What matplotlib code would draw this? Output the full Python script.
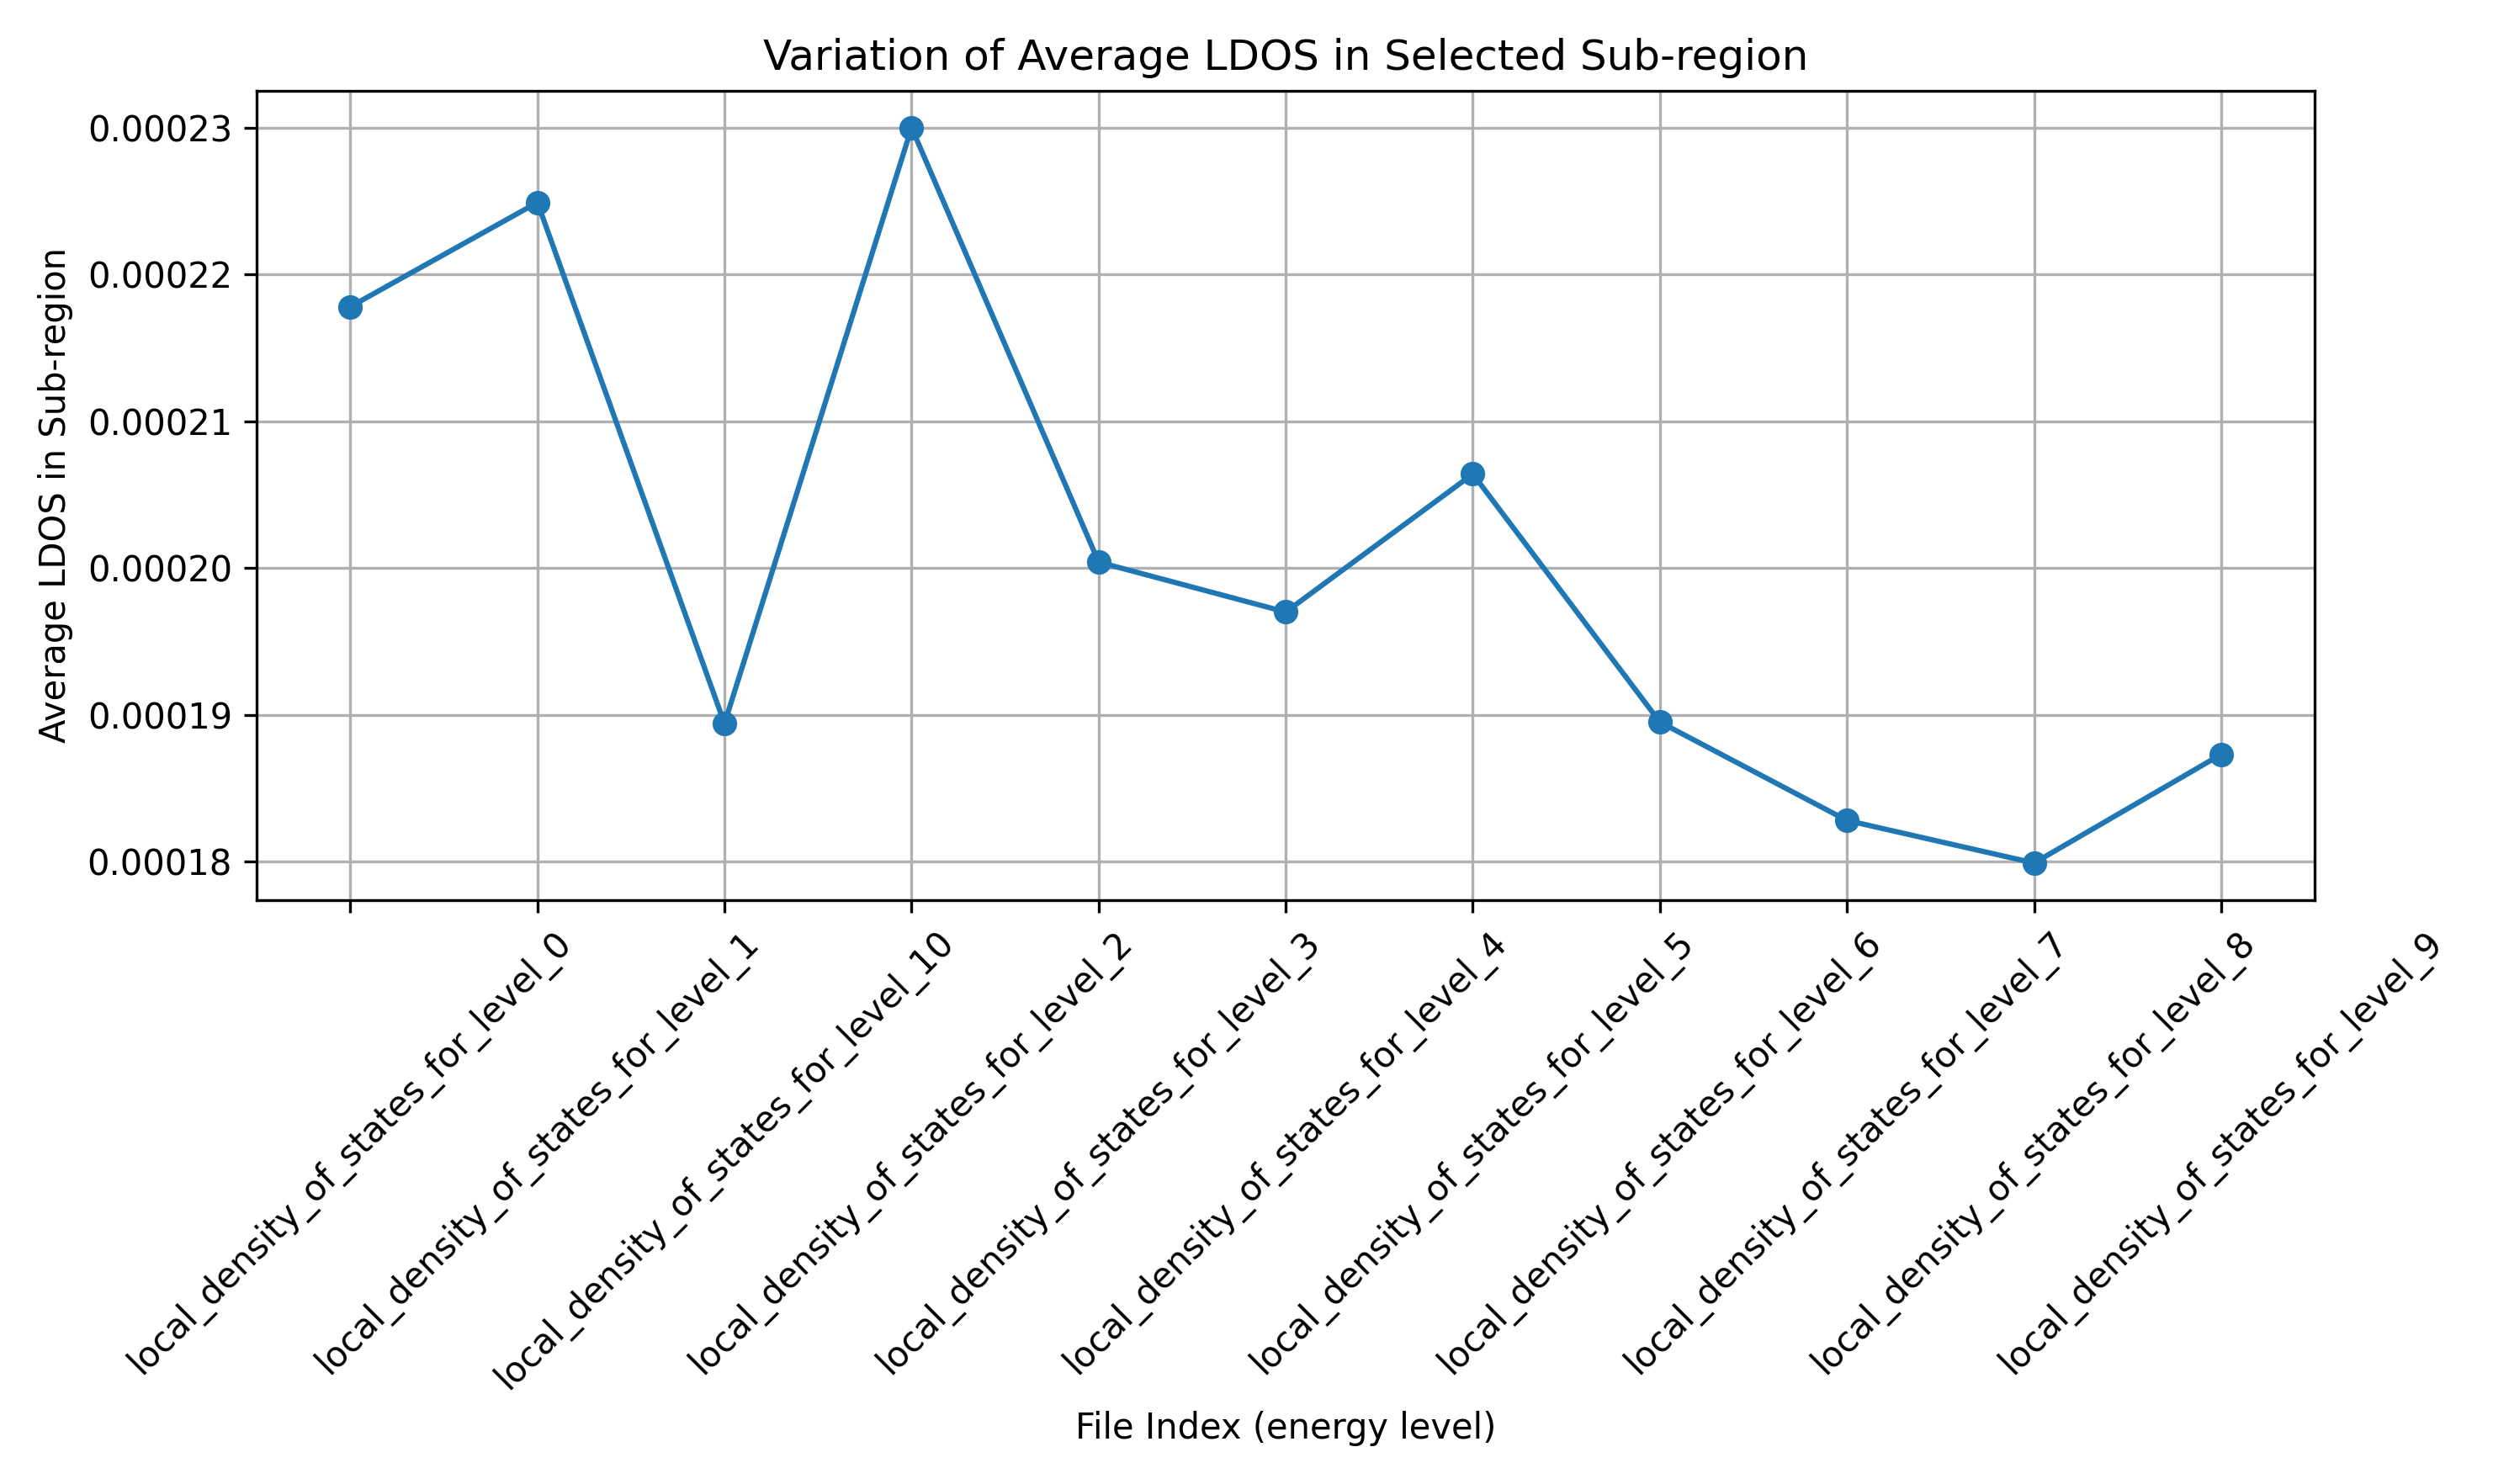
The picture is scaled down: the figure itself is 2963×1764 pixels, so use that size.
import matplotlib
matplotlib.use("Agg")
import matplotlib.pyplot as plt

labels = ["local_density_of_states_for_level_0", "local_density_of_states_for_level_1",
          "local_density_of_states_for_level_10", "local_density_of_states_for_level_2",
          "local_density_of_states_for_level_3", "local_density_of_states_for_level_4",
          "local_density_of_states_for_level_5", "local_density_of_states_for_level_6",
          "local_density_of_states_for_level_7", "local_density_of_states_for_level_8",
          "local_density_of_states_for_level_9"]
values = [0.0002178, 0.0002249, 0.0001894, 0.0002300, 0.0002004, 0.0001970,
          0.0002064, 0.0001895, 0.0001828, 0.0001799, 0.0001873]

fig, ax = plt.subplots(figsize=(9.877, 5.88), dpi=300)
x = list(range(len(values)))
ax.plot(x, values, marker='o')
ax.set_xticks(x)
ax.set_xticklabels(labels, rotation=45)
ax.set_title("Variation of Average LDOS in Selected Sub-region")
ax.set_xlabel("File Index (energy level)")
ax.set_ylabel("Average LDOS in Sub-region")
ax.grid(True)
fig.tight_layout()
fig.savefig("out.png", dpi=300)
